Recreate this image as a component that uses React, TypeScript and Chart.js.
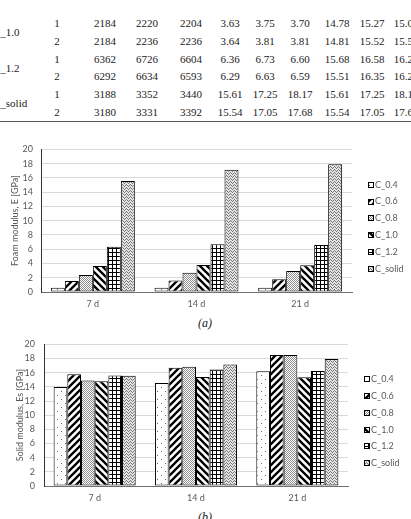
import React, { useEffect, useRef } from "react";
import { Chart, registerables } from "chart.js";

Chart.register(...registerables);

// ---------- data ----------
const categories = ["7 d", "14 d", "21 d"];
const seriesNames = ["C_0.4", "C_0.6", "C_0.8", "C_1.0", "C_1.2", "C_solid"];
const patternKinds = ["dots", "up", "fine", "down", "grid", "zigzag"];

// (a) Foam modulus, E [GPa]
const foamC04 = [0.6, 0.6, 0.6];
const foamC06 = [1.55, 1.6, 1.8];
const foamC08 = [2.4, 2.7, 2.95];
const foamC10 = [3.64, 3.78, 3.76];
const foamC12 = [6.33, 6.68, 6.6];
const foamSolid = [15.58, 17.15, 17.93];

// (b) Solid modulus, Es [GPa]
const solidC04 = [14.0, 14.55, 16.2];
const solidC06 = [15.8, 16.7, 18.5];
const solidC08 = [14.9, 16.85, 18.5];
const solidC10 = [14.8, 15.4, 15.35];
const solidC12 = [15.6, 16.47, 16.25];
const solidSolid = [15.58, 17.15, 17.93];

const yMin = 0;
const yMax = 20;
const yStep = 2;

// table (partially visible at top)
const tableGroups = ["C_1.0", "C_1.2", "C_solid"];
const tableRows = [
  ["1", "2184", "2220", "2204", "3.63", "3.75", "3.70", "14.78", "15.27", "15.07"],
  ["2", "2184", "2236", "2236", "3.64", "3.81", "3.81", "14.81", "15.52", "15.52"],
  ["1", "6362", "6726", "6604", "6.36", "6.73", "6.60", "15.68", "16.58", "16.27"],
  ["2", "6292", "6634", "6593", "6.29", "6.63", "6.59", "15.51", "16.35", "16.23"],
  ["1", "3188", "3352", "3440", "15.61", "17.25", "18.17", "15.61", "17.25", "18.17"],
  ["2", "3180", "3331", "3392", "15.54", "17.05", "17.68", "15.54", "17.05", "17.68"],
];

// ---------- layout / style ----------
const TEXT_GRAY = "#595959";
const FONT = "Lato";
const FONT_SIZE = 9;
const tableColX = [57, 105, 147, 191, 230, 265, 300, 337, 372, 406];
const tableRowY0 = 22.7;
const tableRowStep = 17.93;

function makePattern(kind: string): CanvasPattern | string {
  const c = document.createElement("canvas");
  let w = 8, h = 8;
  if (kind === "dots") { w = 8; h = 8; }
  if (kind === "up" || kind === "down") { w = 7; h = 7; }
  if (kind === "fine") { w = 2; h = 2; }
  if (kind === "grid") { w = 4; h = 4; }
  if (kind === "zigzag") { w = 4; h = 3; }
  c.width = w; c.height = h;
  const g = c.getContext("2d")!;
  g.fillStyle = "#ffffff";
  g.fillRect(0, 0, w, h);
  if (kind === "dots") {
    g.fillStyle = "#666";
    g.fillRect(1, 1, 1, 1);
    g.fillRect(5, 5, 1, 1);
  } else if (kind === "up" || kind === "down") {
    g.strokeStyle = "#000";
    g.lineWidth = 2.3;
    g.beginPath();
    if (kind === "up") {
      g.moveTo(-1, 1); g.lineTo(1, -1);
      g.moveTo(0, h); g.lineTo(w, 0);
      g.moveTo(w - 1, h + 1); g.lineTo(w + 1, h - 1);
    } else {
      g.moveTo(-1, h - 1); g.lineTo(1, h + 1);
      g.moveTo(0, 0); g.lineTo(w, h);
      g.moveTo(w - 1, -1); g.lineTo(w + 1, 1);
    }
    g.stroke();
  } else if (kind === "fine") {
    g.fillStyle = "#8f8f8f";
    g.fillRect(0, 0, 1, 1);
    g.fillRect(1, 1, 1, 1);
  } else if (kind === "grid") {
    g.fillStyle = "#000";
    g.fillRect(0, 0, w, 1);
    g.fillRect(0, 0, 1, h);
  } else if (kind === "zigzag") {
    g.fillStyle = "#e4e4e4";
    g.fillRect(0, 0, w, h);
    g.fillStyle = "#777";
    g.fillRect(0, 2, 1, 1);
    g.fillRect(1, 1, 1, 1);
    g.fillRect(2, 0, 1, 1);
    g.fillRect(3, 1, 1, 1);
  }
  const p = g.createPattern(c, "repeat");
  return p || "#ccc";
}

const patternLegend = {
  id: "patternLegend",
  afterDraw(chart: any) {
    const { ctx, chartArea } = chart;
    const ds = chart.data.datasets;
    const spacing = 16.8;
    const cy = (chartArea.top + chartArea.bottom) / 2 + 6;
    const x = chartArea.right + 16;
    ctx.save();
    ds.forEach((d: any, i: number) => {
      const y = cy + (i - (ds.length - 1) / 2) * spacing;
      const by = Math.round(y - 3);
      ctx.fillStyle = d.backgroundColor;
      ctx.fillRect(x, by, 6, 6);
      ctx.strokeStyle = "#000";
      ctx.lineWidth = 1;
      ctx.strokeRect(x + 0.5, by + 0.5, 5, 5);
      ctx.fillStyle = TEXT_GRAY;
      ctx.font = `${FONT_SIZE}px ${FONT}`;
      ctx.textBaseline = "middle";
      ctx.textAlign = "left";
      ctx.fillText(d.label, x + 7, y);
    });
    ctx.restore();
  },
};

type BarChartProps = {
  top: number;
  height: number;
  yTitle: string;
  series: number[][];
  axisX: number;     // y axis position (px from left)
  plotRight: number; // chart area right edge
  titleX: number;    // y title center x
  labelGap: number;  // gap between tick labels and axis
};

function BarChart(props: BarChartProps) {
  const ref = useRef<HTMLCanvasElement | null>(null);
  useEffect(() => {
    if (!ref.current) return;
    const datasets = seriesNames.map((name, i) => ({
      label: name,
      data: props.series[i],
      backgroundColor: makePattern(patternKinds[i]) as any,
      borderColor: "#000",
      borderWidth: 1,
      borderSkipped: false as any,
      barPercentage: 1,
      categoryPercentage: 0.81,
    }));
    const chart = new Chart(ref.current, {
      type: "bar",
      data: { labels: categories, datasets },
      options: {
        animation: false,
        responsive: false,
        maintainAspectRatio: false,
        layout: { padding: { left: 0, right: 411 - props.plotRight, top: 10, bottom: 0 } },
        plugins: { legend: { display: false }, tooltip: { enabled: false } },
        scales: {
          x: {
            grid: { display: false, drawTicks: false },
            border: { display: true, color: "#6f6f6f", width: 1 },
            ticks: { color: TEXT_GRAY, font: { family: FONT, size: FONT_SIZE }, padding: 7 },
            afterFit: (s: any) => { s.height = 19; },
          },
          y: {
            min: yMin,
            max: yMax,
            ticks: {
              stepSize: yStep,
              autoSkip: false,
              color: TEXT_GRAY,
              font: { family: FONT, size: FONT_SIZE },
              padding: props.labelGap,
            },
            grid: { color: "#d9d9d9", drawTicks: false },
            border: { display: true, color: "#333", width: 1 },
            title: {
              display: true,
              text: props.yTitle,
              color: TEXT_GRAY,
              font: { family: FONT, size: FONT_SIZE },
              padding: { top: props.titleX - 5.5, bottom: 0 },
            },
            afterFit: (s: any) => { s.width = props.axisX; },
          },
        },
      } as any,
      plugins: [patternLegend],
    });
    return () => chart.destroy();
  }, []);
  return (
    <canvas
      ref={ref}
      width={411}
      height={props.height}
      style={{ position: "absolute", left: 0, top: props.top, width: 411, height: props.height, display: "block" }}
    />
  );
}

export default function App() {
  const cellStyle = (cx: number, cy: number): React.CSSProperties => ({
    position: "absolute",
    left: cx - 25,
    width: 50,
    top: cy - 7,
    height: 14,
    lineHeight: "14px",
    textAlign: "center",
    whiteSpace: "nowrap",
  });
  return (
    <div
      style={{
        position: "absolute",
        left: 0,
        top: 0,
        width: 411,
        height: 519,
        overflow: "hidden",
        background: "#fff",
        fontFamily: "'Liberation Serif', serif",
        fontSize: 11,
        color: "#222",
      }}
    >
      {tableGroups.map((g, gi) => (
        <div
          key={g}
          style={{
            position: "absolute",
            left: -7,
            top: tableRowY0 + tableRowStep * (gi * 2 + 0.5) - 7,
            lineHeight: "14px",
            whiteSpace: "nowrap",
          }}
        >
          {g}
        </div>
      ))}
      {tableRows.map((row, ri) =>
        row.map((v, ci) => (
          <div key={`${ri}-${ci}`} style={cellStyle(tableColX[ci], tableRowY0 + tableRowStep * ri)}>
            {v}
          </div>
        ))
      )}
      <div style={{ position: "absolute", left: 0, top: 121, width: 411, height: 1, background: "#555" }} />

      <BarChart
        top={136}
        height={175}
        yTitle="Foam modulus, E [GPa]"
        series={[foamC04, foamC06, foamC08, foamC10, foamC12, foamSolid]}
        axisX={41}
        plotRight={352}
        titleX={15}
        labelGap={8}
      />
      <div
        style={{
          position: "absolute",
          left: 185,
          width: 40,
          top: 316,
          lineHeight: "14px",
          textAlign: "center",
          fontStyle: "italic",
          fontSize: 12,
        }}
      >
        (a)
      </div>

      <BarChart
        top={330}
        height={175}
        yTitle="Solid modulus, Es [GPa]"
        series={[solidC04, solidC06, solidC08, solidC10, solidC12, solidSolid]}
        axisX={44}
        plotRight={348}
        titleX={20}
        labelGap={9}
      />
      <div
        style={{
          position: "absolute",
          left: 185,
          width: 40,
          top: 510,
          lineHeight: "14px",
          textAlign: "center",
          fontStyle: "italic",
          fontSize: 12,
        }}
      >
        (b)
      </div>
    </div>
  );
}
